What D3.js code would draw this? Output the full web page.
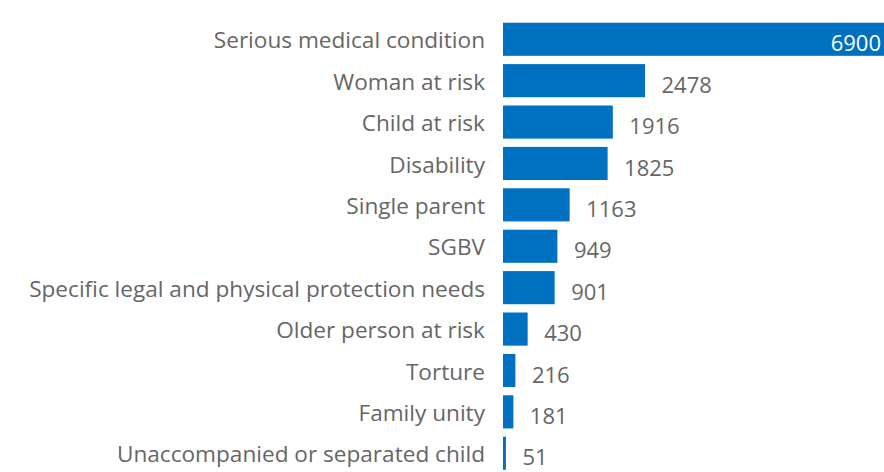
<!DOCTYPE html>
<html><head><meta charset="utf-8">
<script src="https://cdn.jsdelivr.net/npm/d3@7"></script>
<style>html,body{margin:0;padding:0;background:#fff;overflow:hidden}</style>
</head><body>
<svg id="chart" width="884" height="472"></svg>
<script>
const categories = ["Serious medical condition","Woman at risk","Child at risk","Disability","Single parent","SGBV","Specific legal and physical protection needs","Older person at risk","Torture","Family unity","Unaccompanied or separated child"];
const values = [6900,2478,1916,1825,1163,949,901,430,216,181,51];

const svg = d3.select("#chart");
const font = "'Open Sans', sans-serif";
const x = d3.scaleLinear().domain([0, 6900]).range([503, 898.5]);
const step = 41.4;
const yb = d3.scaleBand().domain(categories)
  .range([22.7 - 0.1*step, 22.7 - 0.1*step + step*categories.length])
  .paddingInner(0.2).paddingOuter(0.1);

svg.selectAll("rect.bar").data(values).join("rect")
  .attr("class","bar")
  .attr("x", x(0))
  .attr("y", (d,i)=>yb(categories[i]))
  .attr("width", d=>x(d)-x(0))
  .attr("height", yb.bandwidth())
  .attr("fill","#0070C0");

const yAxis = d3.axisLeft(yb).tickSize(0).tickPadding(0);
const g = svg.append("g").attr("transform","translate(485,0)").call(yAxis);
g.select(".domain").remove();
g.selectAll("text").attr("fill","#666").style("font-family",font).style("font-size","22.6px").attr("dy","0.4em");

svg.selectAll("text.val").data(values).join("text")
  .attr("class","val")
  .attr("x",(d,i)=> i===0 ? 881 : x(d)+16.5)
  .attr("y",(d,i)=>yb(categories[i])+yb.bandwidth()/2)
  .attr("dy","0.55em")
  .attr("text-anchor",(d,i)=> i===0 ? "end" : "start")
  .attr("fill",(d,i)=> i===0 ? "#fff" : "#666")
  .style("font-family",font).style("font-size","22px")
  .text(d=>d);
</script>
</body></html>
